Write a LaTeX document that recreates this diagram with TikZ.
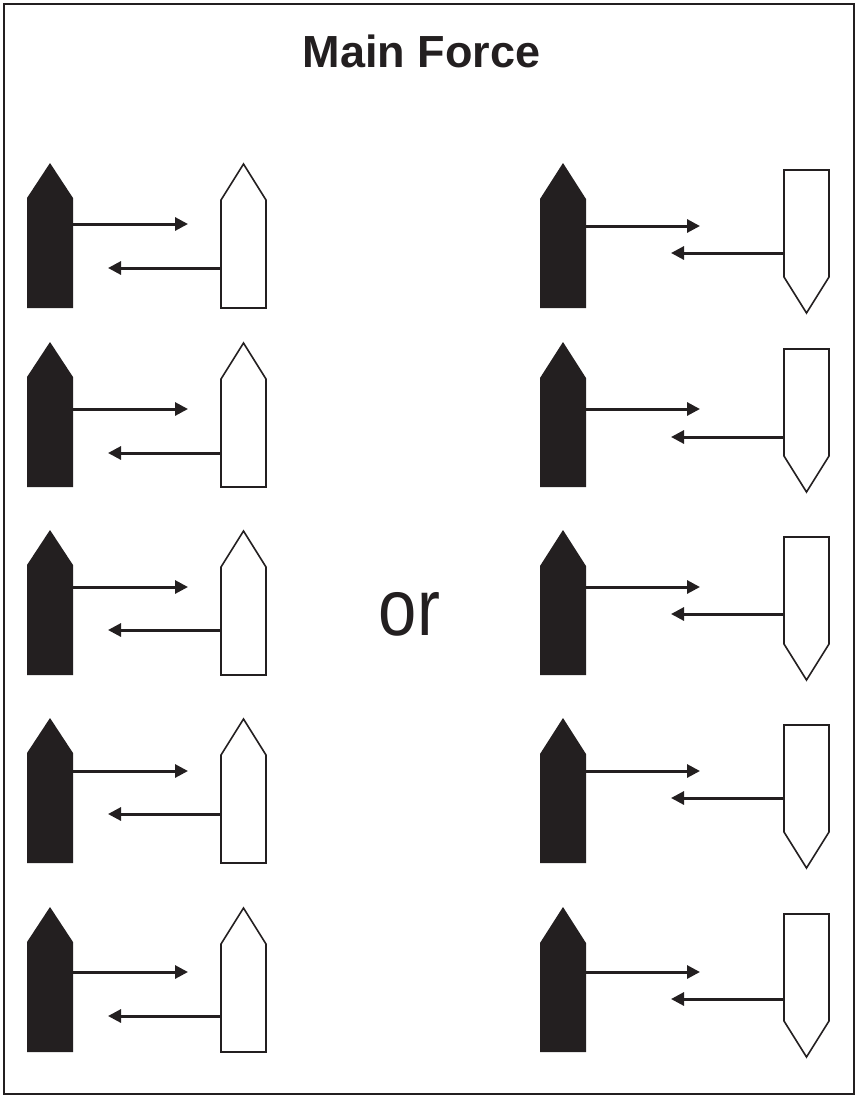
\documentclass[tikz,border=0pt]{standalone}
\usepackage{fontspec}
\setmainfont{Liberation Sans}
\usetikzlibrary{arrows.meta}
\definecolor{ink}{HTML}{231F20}

\begin{document}
\begin{tikzpicture}[x=1pt, y=-1pt, line join=miter,
    hull/.style={draw=ink, line width=1.6pt, fill=white},
    push/.style={draw=ink, line width=3pt, -{Triangle[length=13pt, width=13pt]}}]

\useasboundingbox (0,0) rectangle (857,1096);
\draw[line width=2pt, ink] (4,4) rectangle (854,1094);

\node[ink, anchor=base, font=\bfseries\fontsize{45}{50}\selectfont] (title) at (421.5,67) {Main Force};
\node[ink, anchor=base, font=\fontsize{80}{90}\selectfont] (or) at (409.5,635) {\scalebox{0.86}[1]{or}};

\foreach \t/\ua/\la/\ra/\rb [count=\i] in
    {163/61/105/63/90, 342/67/111/67/95, 530/57/100/57/84,
     718/53/96/53/80, 907/65/109/65/92} {

  % left pair
  \fill[ink] (27,\t+35) -- (50,\t) -- (73,\t+35) -- (73,\t+145) -- (27,\t+145) -- cycle;
  \draw[hull] (221,\t+37) -- (243.5,\t+1) -- (266,\t+37) -- (266,\t+145) -- (221,\t+145) -- cycle;

  \coordinate (LA\i) at (73,\t+\ua);
  \coordinate (LB\i) at (188,\t+\ua);
  \coordinate (LC\i) at (221,\t+\la);
  \coordinate (LD\i) at (108,\t+\la);
  \draw[push] (LA\i) -- (LB\i);
  \draw[push] (LC\i) -- (LD\i);

  % right pair
  \fill[ink] (540,\t+36) -- (563,\t) -- (586,\t+36) -- (586,\t+145) -- (540,\t+145) -- cycle;
  \draw[hull] (784,\t+7) -- (829,\t+7) -- (829,\t+114) -- (806.5,\t+150) -- (784,\t+114) -- cycle;

  \coordinate (RA\i) at (586,\t+\ra);
  \coordinate (RB\i) at (700,\t+\ra);
  \coordinate (RC\i) at (784,\t+\rb);
  \coordinate (RD\i) at (671,\t+\rb);
  \draw[push] (RA\i) -- (RB\i);
  \draw[push] (RC\i) -- (RD\i);
}

\end{tikzpicture}
\end{document}
